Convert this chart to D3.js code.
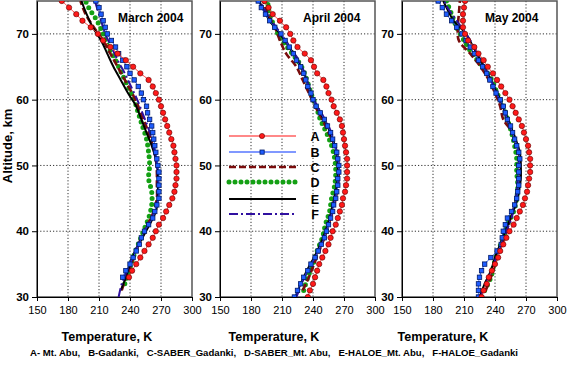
<!DOCTYPE html>
<html><head><meta charset="utf-8">
<script src="https://cdn.jsdelivr.net/npm/d3@7"></script>
<style>body{margin:0;background:#fff}svg{display:block;font-family:"Liberation Sans",Arial,sans-serif}</style>
</head><body><svg id="c" width="567" height="367"></svg>
<script>
// ---------------- DATA ----------------
const months = ["March 2004", "April 2004", "May 2004"];
const seriesKeys = ["A", "B", "C", "D", "E", "F"];
const captionText = "A- Mt. Abu,   B-Gadanki,   C-SABER_Gadanki,   D-SABER_Mt. Abu,   E-HALOE_Mt. Abu,   F-HALOE_Gadanki";
const xTicks = [150, 180, 210, 240, 270, 300];
const yTicks = [30, 40, 50, 60, 70];
const xTitle = "Temperature, K";
const yTitle = "Altitude, km";

// altitude grids (km)
const alt30to75 = [30,31,32,33,34,35,36,37,38,39,40,41,42,43,44,45,46,47,48,49,50,51,52,53,54,55,56,57,58,59,60,61,62,63,64,65,66,67,68,69,70,71,72,73,74,75];
const alt33to75 = [33,34,35,36,37,38,39,40,41,42,43,44,45,46,47,48,49,50,51,52,53,54,55,56,57,58,59,60,61,62,63,64,65,66,67,68,69,70,71,72,73,74,75];
const altOdd31 = [31,33,35,37,39,41,43,45,47,49,51,53,55,57,59,61,63,65,67,69,71,73,75];
const altEven30 = [30,32,34,36,38,40,42,44,46,48,50,52,54,56,58,60,62,64,66,68,70,72,74,75];
const altEven32 = [32,34,36,38,40,42,44,46,48,50,52,54,56,58,60,62,64,66,68,70,72,74,75];

// March 2004 temperatures (K)
const marA = [239,242,246,250,254,258,262,265,268,272,275,278,281,283,284,285,285,285,284,283,282,280,278,276,274,272,270,268,265,262,258,250,243,236,228,221,214,209,202,194,188,181,174];
const marB = [233,236,240,243,246,249,251,254,258,262,264,266,268,268,268,268,268,267,266,265,264,263,262,261,259,257,256,253,251,248,244,240,237,233,229,226,222,218,216,214,212,210,207];
const marC = [232,236,241,246,251,257,263,266,266,266,265,262,258,253,248,242,235,228,221,214,205,197,192];
const marD = [235,239,243,248,253,258,261,261,258,259,258,256,252,248,244,238,232,226,219,214,208,200,197];
const marE = [231,236,240,245,252,259,265,267,267,267,265,261,256,251,246,238,231,224,218,212,204,198,193];
const marF = [229,232,237,242,248,254,261,266,268,267,266,264,261,257,252,247,241,235,228,222,216,212,208,206];

// April 2004
const aprA = [235,237,240,242,244,246,249,252,255,257,259,262,264,266,268,269,271,272,273,273,273,273,272,271,270,269,268,266,263,260,258,255,253,250,244,241,238,232,225,221,218,214,208,201,197,193];
const aprB = [222,225,228,231,235,238,242,245,248,251,253,255,257,259,260,262,263,264,264,265,265,264,263,261,259,257,254,251,247,243,240,238,235,233,231,228,224,221,217,213,209,203,198,194,190,187];
const aprC = [230,236,241,246,251,255,259,262,264,265,264,261,255,249,242,236,230,224,214,208,203,196,192];
const aprD = [231,235,240,244,249,252,256,258,261,262,261,258,253,247,243,238,234,229,220,210,203,198,196];
const aprE = [223,228,234,241,247,252,256,259,262,264,264,263,259,254,247,240,236,231,225,217,208,198,191,188];
const aprF = [224,229,235,242,248,253,257,260,263,265,265,263,260,255,248,241,236,232,226,218,209,200,192,189];

// May 2004
const mayA = [227,229,232,234,237,240,243,245,248,251,254,258,261,264,267,269,271,272,273,274,274,274,273,272,270,268,266,263,260,257,254,250,246,242,238,233,229,224,220,214,211,209,209,209,210,211];
const mayB = [224,224,224,225,227,230,236,242,246,247,248,250,252,256,259,261,262,263,263,263,263,264,263,261,259,257,255,252,250,248,245,241,238,235,232,228,224,220,216,212,208,203,198,193,189,185];
const mayC = [231,236,240,244,249,253,257,261,263,264,264,261,257,248,245,240,234,226,216,205,204,205,206];
const mayD = [230,236,239,243,248,252,258,261,262,261,261,259,256,252,248,242,237,228,218,210,203,198,193];
const mayE = [225,230,236,240,245,250,255,260,263,265,265,264,260,255,250,245,239,233,226,219,212,200,193,190];
const mayF = [226,231,237,241,246,251,256,259,261,262,263,263,259,254,249,244,239,233,226,220,212,203,194,191];

const panelData = [
  {A:[alt33to75, marA], B:[alt33to75, marB], C:[altOdd31, marC], D:[altEven32, marD], E:[altOdd31, marE], F:[altEven30, marF]},
  {A:[alt30to75, aprA], B:[alt30to75, aprB], C:[altOdd31, aprC], D:[altOdd31, aprD], E:[altEven30, aprE], F:[altEven30, aprF]},
  {A:[alt30to75, mayA], B:[alt30to75, mayB], C:[altOdd31, mayC], D:[altOdd31, mayD], E:[altEven30, mayE], F:[altEven30, mayF]}
];

// ---------------- LAYOUT / STYLE ----------------
const panelLeft = [37, 220, 402];
const panelW = 155;
const plotTop = 1, plotBottom = 297;
const titleX = [118, 303, 485];
const xTitleX = [107, 274, 443];

const style = {
  A: {stroke: "#ff4040", width: 1, dash: null},
  B: {stroke: "#2050ff", width: 1, dash: null},
  C: {stroke: "#7a0c0c", width: 2.6, dash: "7,3"},
  D: {stroke: "#14a014", width: 5, dash: "0,6", cap: "round"},
  E: {stroke: "#000000", width: 2, dash: null},
  F: {stroke: "#3010a0", width: 2, dash: "9,3,2,3"}
};
const drawOrder = ["D", "C", "E", "F", "B", "A"];

const svg = d3.select("#c");
const y = d3.scaleLinear().domain([30, 75]).range([plotBottom, plotTop]);

panelData.forEach((pd, i) => {
  const L = panelLeft[i];
  const x = d3.scaleLinear().domain([150, 300]).range([L, L + panelW]);
  const g = svg.append("g");
  const clipId = "clip" + i;
  svg.append("clipPath").attr("id", clipId).append("rect")
    .attr("x", L).attr("y", plotTop).attr("width", panelW).attr("height", plotBottom - plotTop);

  // gridlines
  g.selectAll(".gx").data(xTicks.slice(1, -1)).join("line")
    .attr("x1", d => x(d)).attr("x2", d => x(d)).attr("y1", plotTop).attr("y2", plotBottom)
    .attr("stroke", "#333").attr("stroke-width", 1).attr("stroke-dasharray", "1.2,2");
  g.selectAll(".gy").data(yTicks.slice(1)).join("line")
    .attr("x1", L).attr("x2", L + panelW).attr("y1", d => y(d)).attr("y2", d => y(d))
    .attr("stroke", "#333").attr("stroke-width", 1).attr("stroke-dasharray", "1.2,2");

  // frame
  g.append("rect").attr("x", L).attr("y", plotTop).attr("width", panelW).attr("height", plotBottom - plotTop)
    .attr("fill", "none").attr("stroke", "#555").attr("stroke-width", 1.5);

  // axes
  const ax = g.append("g").attr("transform", `translate(0,${plotBottom})`)
    .call(d3.axisBottom(x).tickValues(xTicks).tickSize(4).tickSizeOuter(0).tickPadding(5));
  ax.select(".domain").attr("stroke", "#000");
  ax.selectAll("text").attr("font-size", 11).attr("fill", "#000")
    .attr("font-family", '"Liberation Sans",Arial,sans-serif');
  const ay = g.append("g").attr("transform", `translate(${L},0)`)
    .call(d3.axisLeft(y).tickValues(yTicks).tickSize(5).tickSizeOuter(0).tickPadding(3));
  ay.select(".domain").attr("stroke", "#000");
  ay.selectAll("text").attr("font-size", 11.5).attr("fill", "#000").attr("font-weight", "bold")
    .attr("font-family", '"Liberation Sans",Arial,sans-serif');

  // series
  const plot = g.append("g").attr("clip-path", `url(#${clipId})`);
  drawOrder.forEach(k => {
    const [alts, temps] = pd[k];
    const pts = alts.map((a, j) => [temps[j], a]).filter(p => p[0] != null);
    const st = style[k];
    const line = d3.line().x(p => x(p[0])).y(p => y(p[1])).curve(d3.curveCatmullRom.alpha(0.5));
    plot.append("path").attr("d", line(pts)).attr("fill", "none")
      .attr("stroke", st.stroke).attr("stroke-width", st.width)
      .attr("stroke-dasharray", st.dash).attr("stroke-linecap", st.cap || "butt");
    if (k === "A") {
      plot.selectAll(".mA").data(pts).join("circle")
        .attr("cx", p => x(p[0])).attr("cy", p => y(p[1])).attr("r", 2.7)
        .attr("fill", "#ff1a1a").attr("stroke", "#5a0000").attr("stroke-width", 0.6);
    }
    if (k === "B") {
      plot.selectAll(".mB").data(pts).join("rect")
        .attr("x", p => x(p[0]) - 2.2).attr("y", p => y(p[1]) - 2.2)
        .attr("width", 4.4).attr("height", 4.4)
        .attr("fill", "#1e5cff").attr("stroke", "#001a66").attr("stroke-width", 0.8);
    }
  });

  // titles
  g.append("text").attr("x", titleX[i]).attr("y", 22).text(months[i])
    .attr("font-size", 12).attr("font-weight", "bold").attr("fill", "#000");
  g.append("text").attr("x", xTitleX[i]).attr("y", 341).attr("text-anchor", "middle").text(xTitle)
    .attr("font-size", 12.5).attr("font-weight", "bold").attr("fill", "#000");

  // legend in April panel
  if (i === 1) {
    const lx0 = 229, lx1 = 296, rowY = [136, 152, 167, 182, 199, 214];
    seriesKeys.forEach((k, j) => {
      const st = style[k];
      const ly = rowY[j];
      let col = st.stroke, w = st.width;
      if (k === "A") { col = "#ff8888"; w = 2; }
      if (k === "B") { col = "#8098ff"; w = 2; }
      g.append("line").attr("x1", lx0).attr("x2", lx1).attr("y1", ly).attr("y2", ly)
        .attr("stroke", col).attr("stroke-width", w).attr("stroke-dasharray", st.dash)
        .attr("stroke-linecap", st.cap || "butt");
      if (k === "A") g.append("circle").attr("cx", 262).attr("cy", ly).attr("r", 2.6)
        .attr("fill", "#ff1a1a").attr("stroke", "#5a0000").attr("stroke-width", 0.6);
      if (k === "B") g.append("rect").attr("x", 260).attr("y", ly - 2).attr("width", 4.2).attr("height", 4.2)
        .attr("fill", "#1e5cff").attr("stroke", "#001a66").attr("stroke-width", 0.8);
      g.append("text").attr("x", 315).attr("y", ly + 4.5).attr("text-anchor", "middle").text(k)
        .attr("font-size", 12.5).attr("font-weight", "bold").attr("fill", "#000");
    });
  }
});

// y-axis title
svg.append("text").attr("transform", "translate(12,146) rotate(-90)").attr("text-anchor", "middle")
  .text(yTitle).attr("font-size", 13).attr("font-weight", "bold").attr("fill", "#000");

// caption
svg.append("text").attr("x", 30).attr("y", 356).text(captionText)
  .attr("font-size", 8.5).attr("font-weight", "bold").attr("fill", "#000")
  .attr("textLength", 488).attr("lengthAdjust", "spacingAndGlyphs").style("white-space", "pre");
</script></body></html>
